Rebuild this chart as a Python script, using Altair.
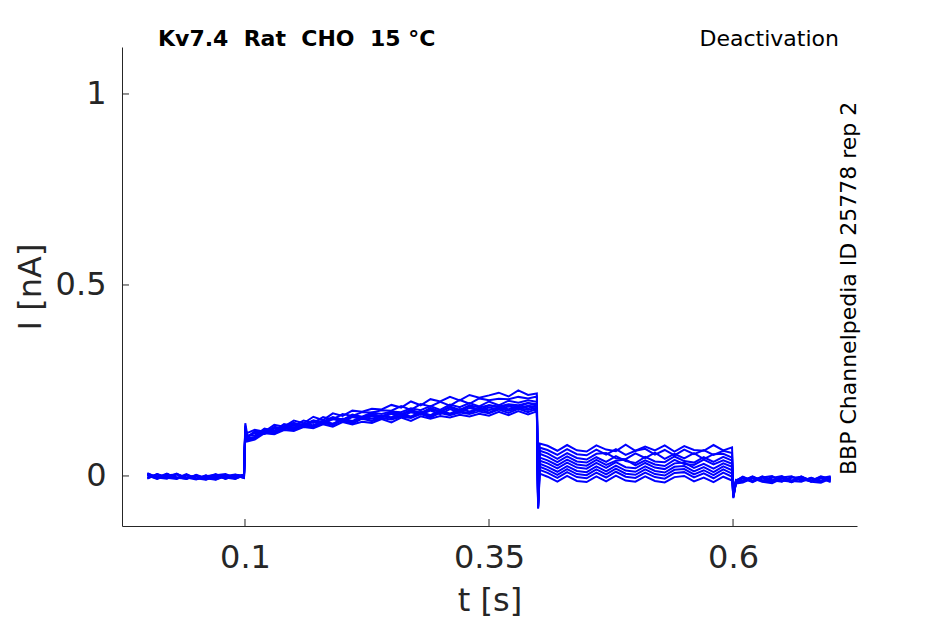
import altair as alt
import pandas as pd

# time samples (s), shared by all sweeps
t_base = [0.0, 0.01, 0.02, 0.03, 0.04, 0.05, 0.06, 0.07, 0.08, 0.09, 0.099]
t_on = [0.1003, 0.102]
t_act = [0.11, 0.12, 0.13, 0.14, 0.15, 0.16, 0.17, 0.18, 0.19, 0.20,
         0.21, 0.22, 0.23, 0.24, 0.25, 0.26, 0.27, 0.28, 0.29, 0.30,
         0.31, 0.32, 0.33, 0.34, 0.35, 0.36, 0.37, 0.38, 0.39, 0.399]
t_step = [0.4003, 0.402]
t_deact = [0.41, 0.42, 0.43, 0.44, 0.45, 0.46, 0.47, 0.48, 0.49, 0.50,
           0.51, 0.52, 0.53, 0.54, 0.55, 0.56, 0.57, 0.58, 0.59, 0.599]
t_off = [0.6003, 0.603]
t_tail = [0.61, 0.62, 0.63, 0.64, 0.65, 0.66, 0.67, 0.68, 0.69, 0.70]

# current (nA), one list per sweep
sweep_1 = [0.007, -0.004, 0.006, -0.007, 0.002, -0.008, -0.004, 0.005, -0.006, 0.003, 0.001,
           0.138, 0.112,
           0.121, 0.116, 0.134, 0.129, 0.145, 0.138, 0.155, 0.146, 0.164, 0.157,
           0.171, 0.168, 0.176, 0.174, 0.186, 0.179, 0.195, 0.185, 0.201, 0.195,
           0.207, 0.198, 0.212, 0.205, 0.211, 0.218, 0.208, 0.224, 0.212, 0.216,
           -0.045, 0.085,
           0.079, 0.066, 0.081, 0.067, 0.064, 0.080, 0.069, 0.065, 0.082, 0.066,
           0.077, 0.067, 0.080, 0.064, 0.078, 0.068, 0.066, 0.081, 0.067, 0.075,
           -0.042, -0.012,
           -0.003, -0.013, -0.001, -0.011, -0.015, -0.002, -0.010, -0.013, -0.001, -0.008]
sweep_2 = [-0.006, 0.005, -0.003, 0.006, -0.007, 0.000, -0.009, 0.002, 0.005, -0.005, 0.003,
           0.128, 0.106,
           0.106, 0.124, 0.118, 0.136, 0.131, 0.145, 0.139, 0.154, 0.148, 0.162,
           0.157, 0.167, 0.166, 0.172, 0.171, 0.183, 0.173, 0.188, 0.182, 0.194,
           0.184, 0.199, 0.189, 0.203, 0.198, 0.202, 0.201, 0.207, 0.203, 0.208,
           -0.060, 0.074,
           0.068, 0.055, 0.070, 0.057, 0.054, 0.069, 0.056, 0.070, 0.055, 0.066,
           0.071, 0.056, 0.068, 0.054, 0.069, 0.057, 0.068, 0.055, 0.066, 0.060,
           -0.050, -0.015,
           -0.012, -0.001, -0.014, -0.005, 0.000, -0.013, -0.004, -0.015, -0.002, -0.010]
sweep_3 = [0.004, -0.007, 0.005, -0.003, -0.008, 0.003, -0.006, -0.010, 0.000, 0.004, -0.003,
           0.120, 0.101,
           0.117, 0.112, 0.129, 0.124, 0.137, 0.135, 0.145, 0.142, 0.154, 0.147,
           0.161, 0.155, 0.166, 0.162, 0.169, 0.167, 0.177, 0.172, 0.183, 0.173,
           0.187, 0.180, 0.191, 0.182, 0.195, 0.185, 0.197, 0.192, 0.198, 0.194,
           -0.070, 0.066,
           0.059, 0.045, 0.060, 0.047, 0.043, 0.058, 0.060, 0.046, 0.044, 0.059,
           0.047, 0.061, 0.045, 0.058, 0.046, 0.060, 0.044, 0.057, 0.058, 0.048,
           -0.055, -0.016,
           -0.014, -0.003, -0.012, -0.016, -0.004, -0.001, -0.013, -0.005, -0.015, -0.003]
sweep_4 = [-0.005, 0.004, -0.006, 0.005, -0.004, -0.009, -0.001, 0.003, -0.008, 0.001, -0.004,
           0.132, 0.098,
           0.102, 0.123, 0.117, 0.131, 0.139, 0.130, 0.145, 0.139, 0.152, 0.148,
           0.155, 0.153, 0.164, 0.154, 0.168, 0.162, 0.173, 0.164, 0.178, 0.168,
           0.182, 0.173, 0.185, 0.179, 0.185, 0.182, 0.188, 0.185, 0.191, 0.188,
           -0.078, 0.058,
           0.050, 0.036, 0.051, 0.038, 0.035, 0.049, 0.037, 0.052, 0.039, 0.034,
           0.050, 0.038, 0.036, 0.051, 0.039, 0.035, 0.049, 0.037, 0.050, 0.040,
           -0.048, -0.013,
           -0.002, -0.013, -0.004, 0.000, -0.014, -0.005, -0.002, -0.012, -0.003, -0.013]
sweep_5 = [0.006, -0.003, 0.001, -0.006, 0.005, -0.007, 0.002, -0.008, 0.003, -0.005, 0.004,
           0.125, 0.104,
           0.112, 0.111, 0.127, 0.122, 0.134, 0.133, 0.142, 0.140, 0.150, 0.146,
           0.157, 0.151, 0.160, 0.157, 0.164, 0.160, 0.170, 0.166, 0.173, 0.169,
           0.179, 0.170, 0.182, 0.173, 0.185, 0.179, 0.186, 0.181, 0.191, 0.184,
           -0.066, 0.048,
           0.041, 0.028, 0.043, 0.030, 0.027, 0.042, 0.029, 0.040, 0.043, 0.028,
           0.041, 0.030, 0.026, 0.042, 0.031, 0.029, 0.043, 0.030, 0.041, 0.032,
           -0.052, -0.014,
           -0.005, -0.015, -0.003, -0.012, -0.002, -0.014, -0.004, -0.013, -0.006, -0.001]
sweep_6 = [0.002, -0.006, 0.004, -0.005, -0.007, 0.001, -0.008, -0.004, 0.003, -0.007, 0.002,
           0.115, 0.100,
           0.115, 0.110, 0.124, 0.123, 0.133, 0.129, 0.143, 0.136, 0.149, 0.143,
           0.154, 0.149, 0.156, 0.153, 0.163, 0.154, 0.167, 0.161, 0.171, 0.162,
           0.175, 0.166, 0.178, 0.172, 0.179, 0.175, 0.182, 0.178, 0.184, 0.181,
           -0.084, 0.040,
           0.033, 0.020, 0.035, 0.022, 0.019, 0.034, 0.021, 0.036, 0.023, 0.020,
           0.034, 0.022, 0.018, 0.033, 0.035, 0.021, 0.032, 0.019, 0.033, 0.024,
           -0.046, -0.010,
           -0.013, -0.002, -0.011, -0.015, -0.003, -0.012, -0.001, -0.014, -0.004, -0.011]
sweep_7 = [0.005, -0.004, -0.007, 0.004, -0.006, 0.002, -0.007, 0.003, -0.006, 0.002, -0.005,
           0.122, 0.097,
           0.101, 0.121, 0.114, 0.129, 0.127, 0.136, 0.133, 0.145, 0.136, 0.150,
           0.144, 0.155, 0.150, 0.157, 0.154, 0.164, 0.155, 0.168, 0.159, 0.172,
           0.163, 0.175, 0.169, 0.176, 0.172, 0.179, 0.175, 0.181, 0.177, 0.183,
           -0.072, 0.032,
           0.024, 0.011, 0.026, 0.013, 0.010, 0.025, 0.012, 0.027, 0.014, 0.011,
           0.025, 0.013, 0.009, 0.024, 0.026, 0.012, 0.023, 0.010, 0.025, 0.015,
           -0.054, -0.017,
           -0.004, -0.014, -0.002, -0.013, -0.005, -0.016, -0.003, -0.012, -0.014, -0.003]
sweep_8 = [-0.007, 0.004, -0.005, -0.008, 0.003, -0.006, -0.010, 0.000, -0.004, -0.008, 0.002,
           0.118, 0.095,
           0.099, 0.117, 0.113, 0.126, 0.123, 0.135, 0.130, 0.140, 0.137, 0.147,
           0.141, 0.153, 0.144, 0.157, 0.151, 0.158, 0.155, 0.165, 0.156, 0.168,
           0.162, 0.169, 0.165, 0.175, 0.166, 0.177, 0.171, 0.178, 0.173, 0.179,
           -0.080, 0.024,
           0.016, 0.003, 0.018, 0.005, 0.002, 0.017, 0.004, 0.019, 0.006, 0.003,
           0.017, 0.005, 0.001, 0.016, 0.018, 0.004, 0.015, 0.002, 0.017, 0.006,
           -0.058, -0.018,
           -0.015, -0.005, -0.013, -0.002, -0.012, -0.015, -0.004, -0.014, -0.006, -0.016]
sweep_9 = [0.003, -0.006, 0.005, -0.006, 0.002, -0.008, 0.001, -0.009, 0.001, -0.006, 0.004,
           0.112, 0.093,
           0.098, 0.115, 0.110, 0.125, 0.120, 0.133, 0.127, 0.139, 0.133, 0.146,
           0.137, 0.150, 0.144, 0.151, 0.148, 0.155, 0.152, 0.162, 0.153, 0.165,
           0.159, 0.166, 0.162, 0.169, 0.164, 0.174, 0.165, 0.176, 0.167, 0.176,
           -0.086, 0.016,
           0.008, -0.005, 0.010, -0.003, -0.006, 0.009, -0.004, 0.011, -0.002, -0.005,
           0.009, -0.003, -0.007, 0.008, 0.010, -0.004, 0.007, -0.006, 0.009, -0.002,
           -0.056, -0.016,
           -0.006, -0.016, -0.004, -0.014, -0.003, -0.013, -0.015, -0.005, -0.013, -0.004]
sweep_10 = [0.001, -0.008, 0.002, 0.004, -0.006, 0.001, -0.007, 0.002, -0.007, 0.001, -0.005,
            0.108, 0.090,
            0.095, 0.112, 0.109, 0.120, 0.118, 0.128, 0.125, 0.135, 0.129, 0.141,
            0.135, 0.142, 0.139, 0.149, 0.140, 0.153, 0.144, 0.156, 0.150, 0.157,
            0.153, 0.160, 0.156, 0.163, 0.158, 0.168, 0.159, 0.170, 0.161, 0.169,
            -0.082, 0.006,
            -0.002, -0.015, 0.000, -0.013, -0.016, -0.001, -0.014, 0.001, -0.012, -0.015,
            -0.001, -0.013, -0.017, -0.003, 0.000, -0.014, -0.004, -0.016, -0.002, -0.012,
            -0.050, -0.020,
            -0.017, -0.006, -0.015, -0.019, -0.007, -0.016, -0.005, -0.015, -0.018, -0.007]

x_ticks = [0.1, 0.35, 0.6]
y_ticks = [0, 0.5, 1]
title_left = "Kv7.4\u00a0\u00a0Rat\u00a0\u00a0CHO\u00a0\u00a015\u00a0°C"
title_right = "Deactivation"
side_note = "BBP Channelpedia ID 25778 rep 2"

times = t_base + t_on + t_act + t_step + t_deact + t_off + t_tail
sweeps = [sweep_1, sweep_2, sweep_3, sweep_4, sweep_5,
          sweep_6, sweep_7, sweep_8, sweep_9, sweep_10]

rows = []
for k, sw in enumerate(sweeps):
    n = min(len(sw), len(times))
    for i in range(n):
        rows.append({"t": times[i], "I": sw[i], "sweep": k, "idx": i})
df = pd.DataFrame(rows)

W, H = 735, 479
FONT = "DejaVu Sans"
AX = "#262626"
BLUE = "#0000ff"

xs = alt.Scale(domain=[-0.026, 0.727], nice=False, zero=False)
ys = alt.Scale(domain=[-0.131, 1.123], nice=False, zero=False)

lines = alt.Chart(df).mark_line(color=BLUE, strokeWidth=2, clip=True).encode(
    x=alt.X("t:Q", scale=xs,
            axis=alt.Axis(values=x_ticks, format="~g", title="t [s]", grid=False,
                          tickSize=0, labelPadding=16, titlePadding=12,
                          labelFontSize=32, titleFontSize=32, labelFont=FONT, titleFont=FONT,
                          labelColor=AX, titleColor=AX, titleFontWeight="normal",
                          domainColor=AX, domainWidth=1, labelFlush=False)),
    y=alt.Y("I:Q", scale=ys,
            axis=alt.Axis(values=y_ticks, format="~g", title="I [nA]", grid=False,
                          tickSize=0, labelPadding=16, titlePadding=8,
                          labelFontSize=32, titleFontSize=32, labelFont=FONT, titleFont=FONT,
                          labelColor=AX, titleColor=AX, titleFontWeight="normal",
                          domainColor=AX, domainWidth=1, labelFlush=False)),
    detail="sweep:N",
    order="idx:Q",
)

xt = alt.Chart(pd.DataFrame({"t": x_ticks})).mark_rule(color=AX, strokeWidth=1).encode(
    x=alt.X("t:Q", scale=xs), y=alt.value(H), y2=alt.value(H - 7))
yt = alt.Chart(pd.DataFrame({"I": y_ticks})).mark_rule(color=AX, strokeWidth=1).encode(
    y=alt.Y("I:Q", scale=ys), x=alt.value(0), x2=alt.value(7))

txt_df = pd.DataFrame({"a": [0]})
t1 = alt.Chart(txt_df).mark_text(font=FONT, fontSize=22, fontWeight="bold", color="black",
                                  align="left", baseline="alphabetic").encode(
    x=alt.value(36), y=alt.value(-1), text=alt.value(title_left))
t2 = alt.Chart(txt_df).mark_text(font=FONT, fontSize=22, color="black",
                                  align="right", baseline="alphabetic").encode(
    x=alt.value(717), y=alt.value(-1), text=alt.value(title_right))
t3 = alt.Chart(txt_df).mark_text(font=FONT, fontSize=22, color="black", angle=270,
                                  align="left", baseline="alphabetic").encode(
    x=alt.value(734), y=alt.value(428), text=alt.value(side_note))

chart = alt.layer(lines, xt, yt, t1, t2, t3).properties(
    width=W, height=H,
    autosize=alt.AutoSizeParams(type="none"),
    padding={"left": 114, "top": 39, "right": 80, "bottom": 97},
).configure_view(stroke=None).configure_axis(domainColor=AX)

chart.save("out.html", embed_options={"renderer": "svg", "actions": False})
